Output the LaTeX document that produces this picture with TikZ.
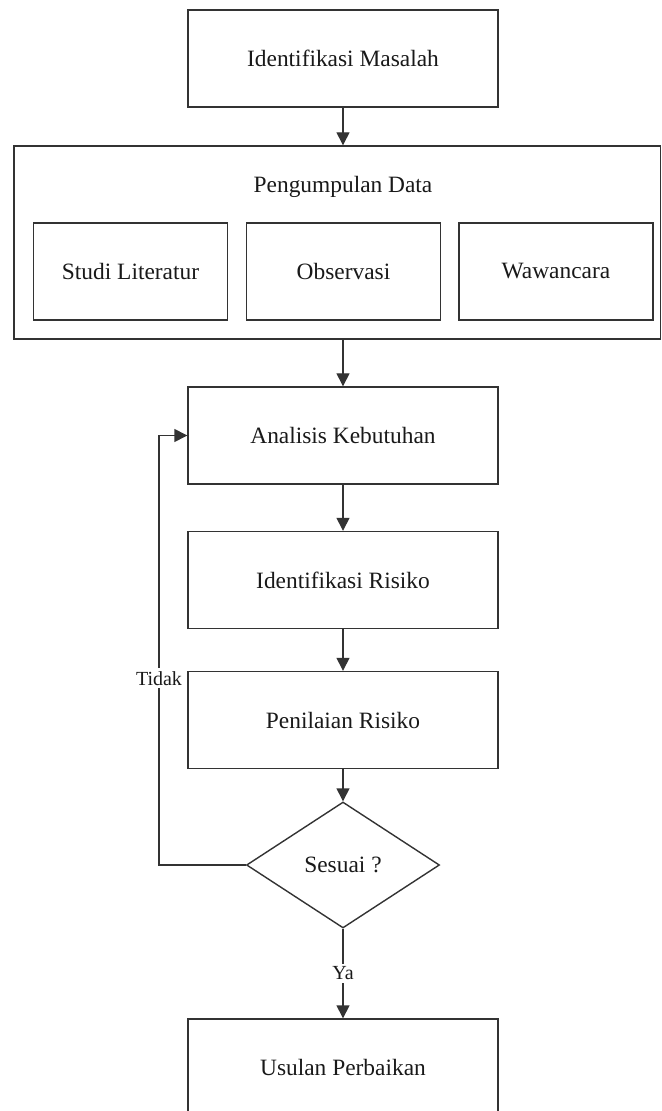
\documentclass[tikz,border=0pt]{standalone}
\usepackage{fontspec}
\setmainfont{Liberation Serif}
\usetikzlibrary{shapes.geometric,arrows.meta}

\begin{document}
\begin{tikzpicture}[x=0.5pt,y=-0.5pt,
    line/.style={draw=black!80, line width=0.7pt},
    stepbox/.style={line, minimum width=155pt, minimum height=48.5pt, inner sep=0pt,
        text=black!90, font=\fontsize{11.7}{14}\selectfont},
    subbox/.style={stepbox, minimum width=97pt},
    decide/.style={line, diamond, aspect=1.53, minimum width=96.5pt, minimum height=63pt,
        inner sep=0pt, text=black!90, font=\fontsize{11.7}{14}\selectfont},
    flow/.style={line, -{Triangle[length=6.5pt,width=6.5pt]}},
    lbl/.style={fill=white, inner sep=1.5pt, text=black!90, font=\fontsize{10}{12}\selectfont}]
    \useasboundingbox (0,0) rectangle (662,1111);

    \node[stepbox] (masalah) at (343,58.5) {Identifikasi Masalah};
    \node[line, minimum width=323.25pt, minimum height=96.5pt, inner sep=0pt] (kumpul) at (337.25,242.5) {};
    \node[text=black!90, font=\fontsize{11.7}{14}\selectfont] (kumpullbl) at (343,187) {Pengumpulan Data};
    \node[subbox] (studi) at (130.5,271.5) {Studi Literatur};
    \node[subbox] (observasi) at (343.5,271.5) {Observasi};
    \node[subbox] (wawancara) at (556,271.5) {Wawancara};
    \node[stepbox] (analisis) at (343,435.5) {Analisis Kebutuhan};
    \node[stepbox] (risiko) at (343,580) {Identifikasi Risiko};
    \node[stepbox] (penilaian) at (343,720) {Penilaian Risiko};
    \node[decide] (sesuai) at (343,865) {Sesuai ?};
    \node[stepbox] (usulan) at (343,1067.5) {Usulan Perbaikan};
    \coordinate (balik) at (159,865);

    \draw[flow] (masalah) -- (masalah |- kumpul.north);
    \draw[flow] (analisis |- kumpul.south) -- (analisis);
    \draw[flow] (analisis) -- (risiko);
    \draw[flow] (risiko) -- (penilaian);
    \draw[flow] (penilaian) -- (sesuai);
    \draw[flow] (sesuai) -- node[lbl] {Ya} (usulan);
    \draw[flow] (sesuai.west) -- (balik) -- node[lbl, pos=0.435] {Tidak} (balik |- analisis.west) -- (analisis.west);
\end{tikzpicture}
\end{document}
